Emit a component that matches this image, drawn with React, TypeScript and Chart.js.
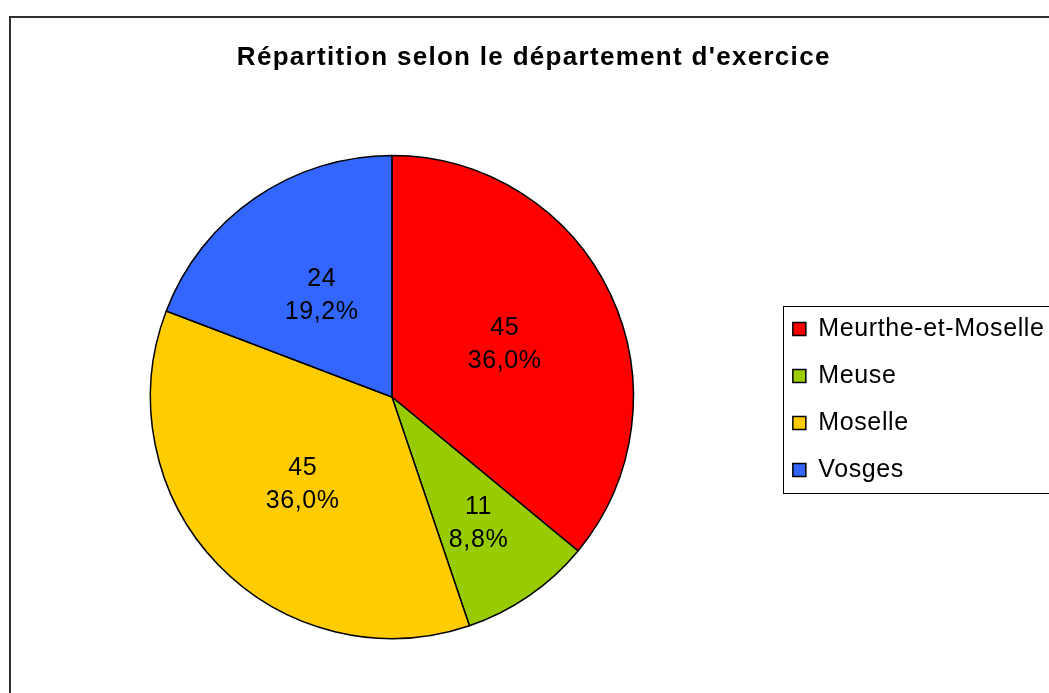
import React, { useEffect, useRef } from 'react';
import { Chart, registerables } from 'chart.js';

Chart.register(...registerables);

const chartTitle = "Répartition selon le département d'exercice";
const categories = ['Meurthe-et-Moselle', 'Meuse', 'Moselle', 'Vosges'];
const counts = [45, 11, 45, 24];
const sliceColors = ['#FF0000', '#99CC00', '#FFCC00', '#3366FF'];

const FONT = '"Liberation Sans", Arial, Helvetica, sans-serif';
const CANVAS_W = 1060;
const CANVAS_H = 693;
const TEXT_SPACING = '0.6px';
const TITLE_SPACING = '1.3px';
const LEGEND_FONT = 25;
const LEGEND_BOX = 13;

const formatPct = (v: number) => (v * 100).toFixed(1).replace('.', ',') + '%';

const framePlugin = {
  id: 'framePlugin',
  beforeLayout(chart: any) {
    chart.ctx.letterSpacing = TEXT_SPACING;
  },
  beforeDraw(chart: any) {
    const { ctx, width, height } = chart;
    ctx.save();
    ctx.letterSpacing = '0px';
    ctx.fillStyle = '#ffffff';
    ctx.fillRect(0, 0, width, height);
    ctx.strokeStyle = '#303030';
    ctx.lineWidth = 2;
    ctx.strokeRect(10, 17, width + 40, height + 40);
    ctx.restore();
    ctx.letterSpacing = TEXT_SPACING;
    const tb: any = chart.titleBlock;
    if (tb && !tb.__spaced) {
      const orig = tb.draw;
      tb.draw = function (...args: any[]) {
        const c = this.ctx;
        c.save();
        c.letterSpacing = TITLE_SPACING;
        orig.apply(this, args);
        c.restore();
      };
      tb.__spaced = true;
    }
  },
  afterDraw(chart: any) {
    const lg: any = chart.legend;
    if (!lg || !lg.legendHitBoxes || !lg.legendHitBoxes.length) return;
    const hb = lg.legendHitBoxes;
    const ctx = chart.ctx;
    const boxOffset = (LEGEND_FONT - LEGEND_BOX) / 2;
    const left = Math.round(hb[0].left - 10) + 0.5;
    const top = Math.round(hb[0].top + boxOffset - 17) + 0.5;
    const bottom = Math.round(hb[hb.length - 1].top + boxOffset + LEGEND_BOX + 16) + 0.5;
    ctx.save();
    ctx.strokeStyle = '#000000';
    ctx.lineWidth = 1;
    ctx.strokeRect(left, top, chart.width + 40 - left, bottom - top);
    ctx.restore();
  },
};

const sliceLabelPlugin = {
  id: 'sliceLabels',
  afterDatasetsDraw(chart: any) {
    const meta = chart.getDatasetMeta(0);
    const data = chart.data.datasets[0].data as number[];
    const total = data.reduce((a, b) => a + b, 0);
    const ctx = chart.ctx;
    ctx.save();
    ctx.font = `25px ${FONT}`;
    ctx.fillStyle = '#000000';
    ctx.textAlign = 'center';
    ctx.textBaseline = 'middle';
    ctx.letterSpacing = TEXT_SPACING;
    meta.data.forEach((arc: any, i: number) => {
      const { x, y, startAngle, endAngle, outerRadius } = arc.getProps(
        ['x', 'y', 'startAngle', 'endAngle', 'outerRadius'],
        true
      );
      const share = data[i] / total;
      const f = share < 0.1 ? 0.63 : 0.515;
      const mid = (startAngle + endAngle) / 2;
      const cx = x + Math.cos(mid) * outerRadius * f + 0.3;
      const cy = y + Math.sin(mid) * outerRadius * f + 1;
      ctx.fillText(String(data[i]), cx, cy - 16.5);
      ctx.fillText(formatPct(share), cx, cy + 16.5);
    });
    ctx.restore();
  },
};

export default function App() {
  const canvasRef = useRef<HTMLCanvasElement | null>(null);

  useEffect(() => {
    const canvas = canvasRef.current;
    if (!canvas) return;
    const chart = new Chart(canvas, {
      type: 'pie',
      data: {
        labels: categories,
        datasets: [
          {
            data: counts,
            backgroundColor: sliceColors,
            borderColor: '#000000',
            borderWidth: 1.5,
            hoverOffset: 0,
            offset: 0,
            radius: 241.5,
          } as any,
        ],
      },
      options: {
        responsive: false,
        animation: false,
        events: [],
        devicePixelRatio: 1,
        layout: {
          padding: { left: 13, right: 5.5, top: 0, bottom: 7.8 },
        },
        plugins: {
          title: {
            display: true,
            text: chartTitle,
            color: '#000000',
            font: { family: FONT, size: 26, weight: 'bold', lineHeight: 1.2 },
            padding: { top: 42, bottom: 35.6 },
          },
          legend: {
            display: true,
            position: 'right',
            fullSize: false,
            align: 'center',
            labels: {
              boxWidth: LEGEND_BOX,
              boxHeight: LEGEND_BOX,
              padding: 22,
              color: '#000000',
              font: { family: FONT, size: LEGEND_FONT },
            },
            title: {
              display: true,
              text: '',
              padding: 0,
              font: { size: 5, lineHeight: 1 },
            },
          },
          tooltip: { enabled: false },
        },
      } as any,
      plugins: [framePlugin, sliceLabelPlugin],
    });
    return () => {
      chart.destroy();
    };
  }, []);

  return (
    <div
      style={{
        position: 'fixed',
        left: 0,
        top: 0,
        width: 1049,
        height: 693,
        overflow: 'hidden',
        background: '#ffffff',
      }}
    >
      <canvas
        ref={canvasRef}
        width={CANVAS_W}
        height={CANVAS_H}
        style={{ display: 'block', width: CANVAS_W, height: CANVAS_H }}
      />
    </div>
  );
}
